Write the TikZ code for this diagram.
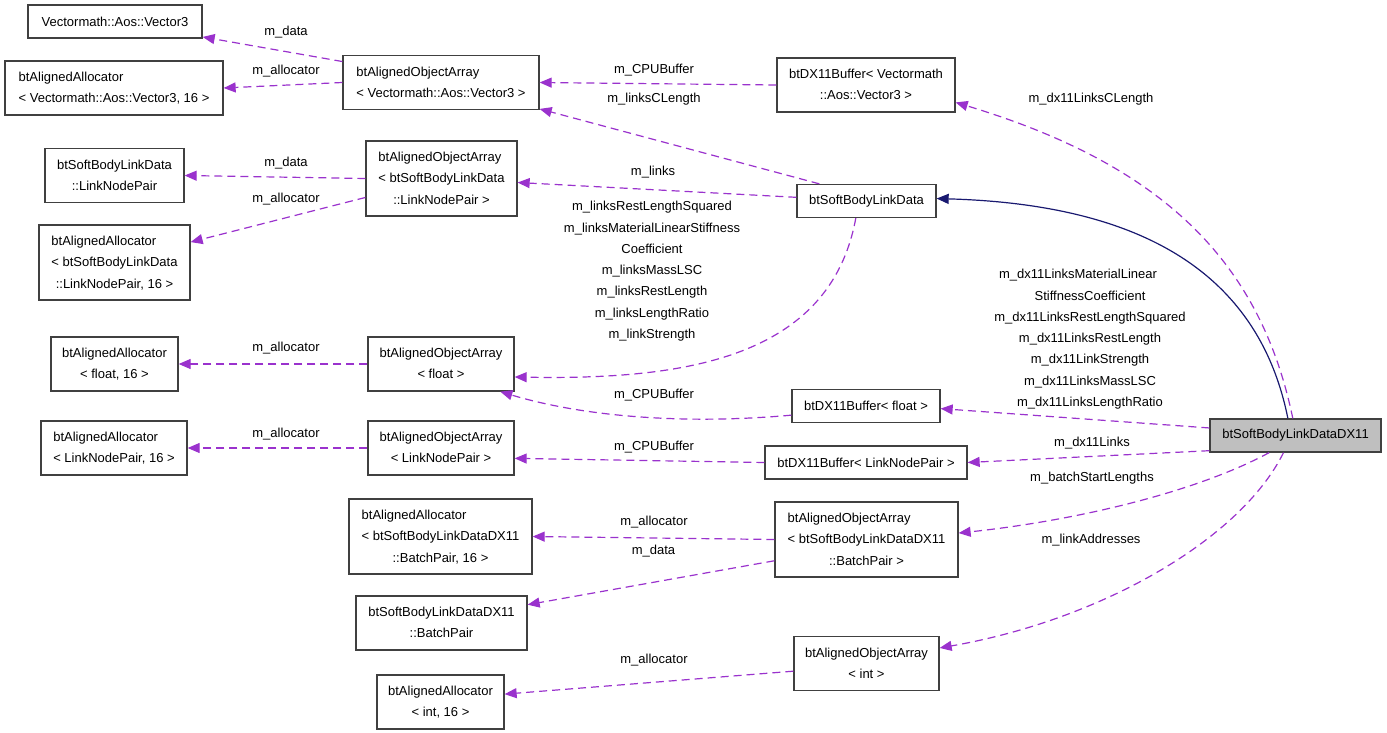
\documentclass[tikz,border=0pt]{standalone}
\usepackage{fontspec}
\setmainfont{Liberation Sans}
\usepackage{tikz}
\usetikzlibrary{arrows.meta}
\definecolor{usecol}{HTML}{9A32CD}
\definecolor{isacol}{HTML}{191970}
\definecolor{boxcol}{HTML}{404040}
\definecolor{maincol}{HTML}{BFBFBF}
\newcommand{\cls}[2]{\begin{tabular}{@{}c@{}}\multicolumn{1}{@{}l@{}}{#1}\\#2\end{tabular}}
\tikzset{
  box/.style={draw=boxcol, line width=1.3pt, fill=white, inner sep=0pt, font=\fontsize{13}{21.3}\selectfont},
  sz/.style 2 args={minimum width=#1pt, minimum height=#2pt},
  lbl/.style={font=\fontsize{13}{21.3}\selectfont, align=center, inner sep=0pt},
  use/.style={usecol, line width=1.2pt, dash pattern=on 8pt off 5pt, -{Triangle[length=12pt,width=10pt]}},
  isa/.style={isacol, line width=1.2pt, -{Triangle[length=12pt,width=10pt]}}
}
\begin{document}
\begin{tikzpicture}[x=1pt,y=-1pt]
        \useasboundingbox (0,0) rectangle (1387,733);
        %KELAS
        \node[box,sz={174}{33}] (v3) at (115,21.5) {Vectormath::Aos::Vector3};
        \node[box,sz={218}{54}] (allocV3) at (114,88) {\cls{btAlignedAllocator}{< Vectormath::Aos::Vector3, 16 >}};
        \node[box,sz={196}{54}] (arrV3) at (441,82.5) {\cls{btAlignedObjectArray}{< Vectormath::Aos::Vector3 >}};
        \node[box,sz={178}{54}] (dxV3) at (866,85) {\cls{btDX11Buffer< Vectormath}{::Aos::Vector3 >}};
        \node[box,sz={139}{54}] (lnp) at (114.5,175.5) {\cls{btSoftBodyLinkData}{::LinkNodePair}};
        \node[box,sz={151}{75}] (arrLNPd) at (441.5,178.5) {\cls{btAlignedObjectArray}{< btSoftBodyLinkData\\::LinkNodePair >}};
        \node[box,sz={151}{75}] (allocLNPd) at (114.5,262.5) {\cls{btAlignedAllocator}{< btSoftBodyLinkData\\::LinkNodePair, 16 >}};
        \node[box,sz={139}{33}] (sbld) at (866.5,201) {btSoftBodyLinkData};
        \node[box,sz={127}{54}] (allocFloat) at (114.5,364) {\cls{btAlignedAllocator}{< float, 16 >}};
        \node[box,sz={146}{54}] (arrFloat) at (441,364) {\cls{btAlignedObjectArray}{< float >}};
        \node[box,sz={148}{33}] (dxFloat) at (866,406) {btDX11Buffer< float >};
        \node[box,sz={146}{54}] (allocLNP) at (114,448) {\cls{btAlignedAllocator}{< LinkNodePair, 16 >}};
        \node[box,sz={146}{54}] (arrLNP) at (441,448) {\cls{btAlignedObjectArray}{< LinkNodePair >}};
        \node[box,sz={202}{33}] (dxLNP) at (866,462.5) {btDX11Buffer< LinkNodePair >};
        \node[box,sz={183}{75}] (allocBP) at (440.5,536.5) {\cls{btAlignedAllocator}{< btSoftBodyLinkDataDX11\\::BatchPair, 16 >}};
        \node[box,sz={171}{54}] (bp) at (441.5,623) {\cls{btSoftBodyLinkDataDX11}{::BatchPair}};
        \node[box,sz={183}{75}] (arrBP) at (866.5,539.5) {\cls{btAlignedObjectArray}{< btSoftBodyLinkDataDX11\\::BatchPair >}};
        \node[box,sz={127}{54}] (allocInt) at (440.5,702) {\cls{btAlignedAllocator}{< int, 16 >}};
        \node[box,sz={145}{54}] (arrInt) at (866.5,663.5) {\cls{btAlignedObjectArray}{< int >}};
        \node[box,sz={171}{33},fill=maincol] (dx11) at (1295.5,435.5) {btSoftBodyLinkDataDX11};
        %RELASI
        \draw[use] (arrV3.168) -- (v3.350);
        \draw[use] (arrV3.west) -- (allocV3.east);
        \draw[use] (dxV3.west) -- (arrV3.east);
        \draw[use] (sbld.160) -- (arrV3.345);
        \draw[use] (arrLNPd.west) -- (lnp.east);
        \draw[use] (arrLNPd.194) -- (allocLNPd.15);
        \draw[use] (sbld.177) -- (arrLNPd.357);
        \draw[use] (sbld.238) .. controls +(-26,142) and +(166,3) .. (arrFloat.350);
        \draw[use] (arrFloat.west) -- (allocFloat.east);
        \draw[use] (dxFloat.187) .. controls +(-112,10) and +(80,24) .. (arrFloat.335);
        \draw[use] (arrLNP.west) -- (allocLNP.east);
        \draw[use] (dxLNP.west) -- (arrLNP.352);
        \draw[use] (arrBP.west) -- (allocBP.east);
        \draw[use] (arrBP.193) -- (bp.12);
        \draw[use] (arrInt.186) -- (allocInt.7);
        \draw[isa] (dx11.114) .. controls +(-28,-139) and +(214,6) .. (sbld.2);
        \draw[use] (dx11.99) .. controls +(-33,-159) and +(205,62) .. (dxV3.349);
        \draw[use] (dx11.175) -- (dxFloat.358);
        \draw[use] (dx11.190) -- (dxLNP.east);
        \draw[use] (dx11.213) .. controls +(-70,38) and +(122,-13) .. (arrBP.4);
        \draw[use] (dx11.235) .. controls +(-43,87) and +(161,-28) .. (arrInt.12);
        %LABEL
        \node[lbl] (lData1) at (286,32.5) {m\_data};
        \node[lbl] (lAlloc1) at (286,71.5) {m\_allocator};
        \node[lbl] (lCPU1) at (654,70.5) {m\_CPUBuffer};
        \node[lbl] (lCLen) at (654,99.5) {m\_linksCLength};
        \node[lbl] (lData2) at (286,163.5) {m\_data};
        \node[lbl] (lAlloc2) at (286,199) {m\_allocator};
        \node[lbl] (lLinks) at (653,172.5) {m\_links};
        \node[lbl] (lMulti) at (652,271.3) {m\_linksRestLengthSquared\\m\_linksMaterialLinearStiffness\\Coefficient\\m\_linksMassLSC\\m\_linksRestLength\\m\_linksLengthRatio\\m\_linkStrength};
        \node[lbl] (lAlloc3) at (286,348.5) {m\_allocator};
        \node[lbl] (lCPU2) at (654,395) {m\_CPUBuffer};
        \node[lbl] (lAlloc4) at (286,434.5) {m\_allocator};
        \node[lbl] (lCPU3) at (654,447.5) {m\_CPUBuffer};
        \node[lbl] (lAlloc5) at (654,522.5) {m\_allocator};
        \node[lbl] (lData3) at (653.5,551.5) {m\_data};
        \node[lbl] (lAlloc6) at (654,660.5) {m\_allocator};
        \node[lbl] (lDxCLen) at (1091,99.5) {m\_dx11LinksCLength};
        \node[lbl] (lDxMulti) at (1090,339.3) {m\_dx11LinksMaterialLinear\hspace*{24pt}\\StiffnessCoefficient\\m\_dx11LinksRestLengthSquared\\m\_dx11LinksRestLength\\m\_dx11LinkStrength\\m\_dx11LinksMassLSC\\m\_dx11LinksLengthRatio};
        \node[lbl] (lDxLinks) at (1092,443) {m\_dx11Links};
        \node[lbl] (lBatch) at (1092,478) {m\_batchStartLengths};
        \node[lbl] (lAddr) at (1091,540.5) {m\_linkAddresses};
    \end{tikzpicture}
\end{document}
